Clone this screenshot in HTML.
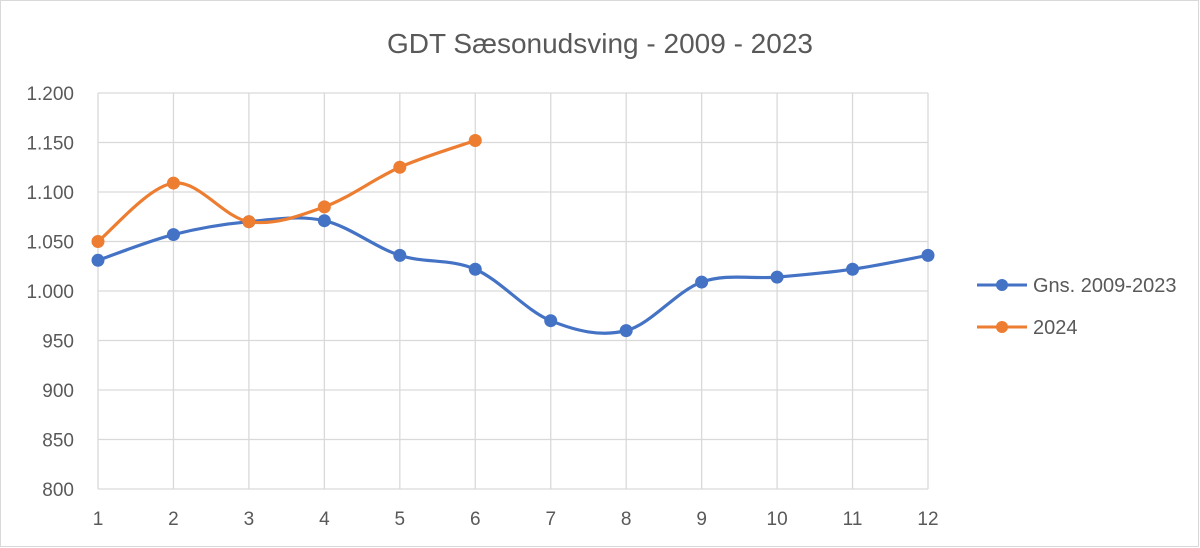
<!DOCTYPE html>
<html><head><meta charset="utf-8"><style>
html,body{margin:0;padding:0;background:#fff}
svg{display:block;font-family:"Liberation Sans",sans-serif}
</style></head><body>
<svg width="1200" height="548" viewBox="0 0 1200 548">
<rect x="0.5" y="0.5" width="1198" height="546" fill="#fff" stroke="#d9d9d9"/>
<text x="600" y="53" text-anchor="middle" font-size="28" fill="#595959">GDT Sæsonudsving - 2009 - 2023</text>
<g id="grid"></g><g id="axes"></g><g id="series"></g>
<g>
<g>
<line x1="977" y1="285" x2="1027" y2="285" stroke="#4472c4" stroke-width="3"/>
<circle cx="1002" cy="285" r="6" fill="#4472c4"/>
<text x="1033" y="292" font-size="20" fill="#595959">Gns. 2009-2023</text></g>
<g>
<line x1="977" y1="327" x2="1027" y2="327" stroke="#ed7d31" stroke-width="3"/>
<circle cx="1002" cy="327" r="6" fill="#ed7d31"/>
<text x="1033" y="334" font-size="20" fill="#595959">2024</text></g>
</g>
</svg>
<script>
const categories=[1,2,3,4,5,6,7,8,9,10,11,12];
const yTicks=[800,850,900,950,1000,1050,1100,1150,1200];
const yTickLabels=["800","850","900","950","1.000","1.050","1.100","1.150","1.200"];
const seriesGns=[1031,1057,1070,1071,1036,1022,970,960,1009,1014,1022,1036];
const series2024=[1050,1109,1070,1085,1125,1152];
const NS="http://www.w3.org/2000/svg";
const L=98,R=928,T=93,B=489;
const x=i=>L+i*(R-L)/(categories.length-1);
const y=v=>B-(v-800)/400*(B-T);
function mk(t,a,p){const e=document.createElementNS(NS,t);for(const k in a)e.setAttribute(k,a[k]);p.appendChild(e);return e;}
const grid=document.getElementById('grid'),axes=document.getElementById('axes'),ser=document.getElementById('series');
yTicks.forEach((v,i)=>{const l=mk('line',{x1:L,x2:R,y1:y(v),y2:y(v),stroke:'#d9d9d9','stroke-width':1.3},grid);


const t=mk('text',{x:74,y:y(v)+7,'text-anchor':'end','font-size':19,fill:'#595959'},axes);t.textContent=yTickLabels[i];

});
categories.forEach((c,i)=>{const l=mk('line',{x1:x(i),x2:x(i),y1:T,y2:B,stroke:'#d9d9d9','stroke-width':1.3},grid);


const t=mk('text',{x:x(i),y:525,'text-anchor':'middle','font-size':19,fill:'#595959'},axes);t.textContent=c;

});
function path(vals){const p=vals.map((v,i)=>[x(i),y(v)]);let d='M'+p[0][0]+','+p[0][1];const k=1/6;
for(let i=0;i<p.length-1;i++){const p0=p[i-1]||p[i],p1=p[i],p2=p[i+1],p3=p[i+2]||p2;
d+=' C'+(p1[0]+(p2[0]-p0[0])*k)+','+(p1[1]+(p2[1]-p0[1])*k)+' '+(p2[0]-(p3[0]-p1[0])*k)+','+(p2[1]-(p3[1]-p1[1])*k)+' '+p2[0]+','+p2[1];}return d;}
function draw(vals,col,name){const g=mk('g',{},ser);


mk('path',{d:path(vals),fill:'none',stroke:col,'stroke-width':3.2},g);
vals.forEach((v,i)=>{const c=mk('circle',{cx:x(i),cy:y(v),r:6.5,fill:col},g);

});}
draw(seriesGns,'#4472c4','series-gns');
draw(series2024,'#ed7d31','series-2024');
</script>
</body></html>
